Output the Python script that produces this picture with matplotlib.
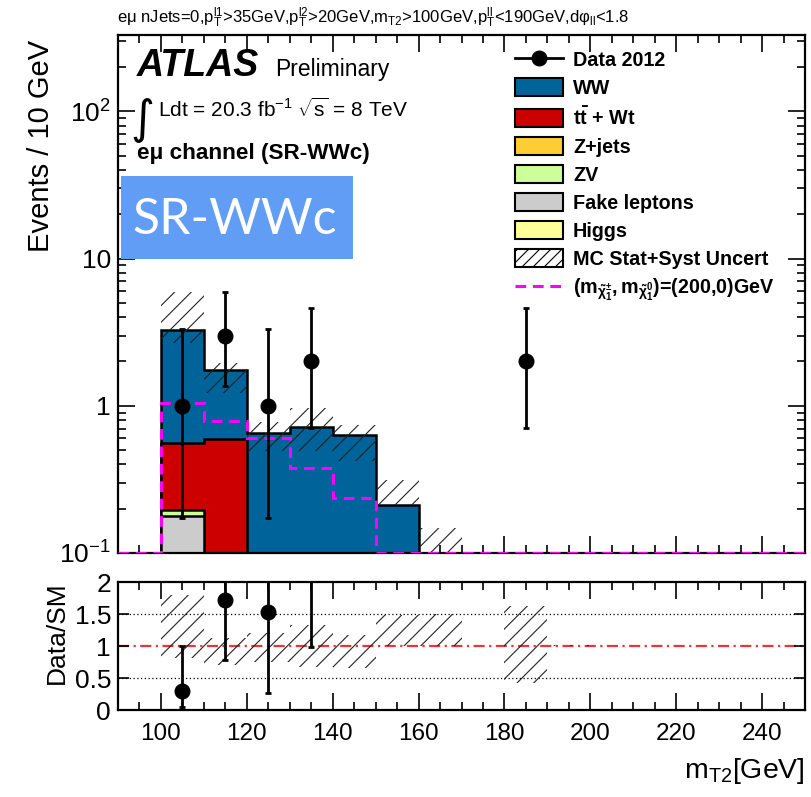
import numpy as np
import matplotlib
matplotlib.use('Agg')
import matplotlib.pyplot as plt
from matplotlib.patches import Patch, Rectangle
from matplotlib.lines import Line2D
from matplotlib.ticker import MultipleLocator, FixedLocator, FixedFormatter, LogLocator, NullFormatter

plt.rcParams['font.family'] = ['Liberation Sans', 'DejaVu Sans']
plt.rcParams['mathtext.fontset'] = 'custom'
plt.rcParams['mathtext.rm'] = 'Liberation Sans'
plt.rcParams['mathtext.it'] = 'Liberation Sans:italic'
plt.rcParams['mathtext.bf'] = 'Liberation Sans:bold'
plt.rcParams['mathtext.sf'] = 'Liberation Sans'
plt.rcParams['hatch.linewidth'] = 0.8

# mT2 binning, 10 GeV bins from 90 to 250
edges = np.arange(90, 251, 10)

# background yields per bin (events / 10 GeV)
ww     = [0, 2.74, 1.15, 0.652, 0.723, 0.635, 0.212, 0.098, 0, 0.05, 0.005, 0, 0, 0, 0, 0]
ttbar  = [0, 0.36, 0.593, 0, 0, 0, 0, 0, 0, 0, 0, 0, 0, 0, 0, 0]
zjets  = [0, 0, 0, 0, 0, 0, 0, 0, 0, 0, 0, 0, 0, 0, 0, 0]
zv     = [0, 0.019, 0, 0, 0, 0, 0, 0, 0, 0, 0, 0, 0, 0, 0, 0]
fakes  = [0, 0.177, 0, 0, 0, 0, 0, 0, 0, 0, 0, 0, 0, 0, 0, 0]
higgs  = [0, 0, 0, 0, 0, 0, 0, 0, 0, 0, 0, 0, 0, 0, 0, 0]

# MC stat+syst uncertainty band (lower / upper edge)
band_lo = [0, 2.67, 1.22, 0.49, 0.49, 0.42, 0.212, 0.098, 0, 0.021, 0.005, 0, 0, 0, 0, 0]
band_hi = [0, 5.9, 1.95, 0.78, 0.965, 0.743, 0.314, 0.147, 0, 0.081, 0.0051, 0, 0, 0, 0, 0]

# signal point (m_chargino, m_neutralino) = (200, 0) GeV
signal = [0, 1.04, 0.79, 0.60, 0.38, 0.236, 0, 0, 0, 0, 0, 0, 0, 0, 0, 0]

# data 2012 with Poisson intervals
data_x  = [105, 115, 125, 135, 185]
data_n  = [1, 3, 1, 2, 2]
data_lo = [0.173, 1.367, 0.173, 0.708, 0.708]
data_hi = [3.300, 5.918, 3.300, 4.638, 4.638]

# stack order, bottom to top: label, yields, colour
bkg = [
    ('Higgs', higgs, '#FFFF99'),
    ('Fake leptons', fakes, '#CCCCCC'),
    ('ZV', zv, '#CCFF99'),
    ('Z+jets', zjets, '#FFCC33'),
    (r'$\mathbf{t\bar{t}}$ + Wt', ttbar, '#CC0000'),
    ('WW', ww, '#00639A'),
]
legend_order = ['WW', r'$\mathbf{t\bar{t}}$ + Wt', 'Z+jets', 'ZV', 'Fake leptons', 'Higgs']

W, H = 811, 797
YMIN, YMAX = 0.1, 330
FLOOR = 1e-4

def fx(px):
    return px / W

def fy(py):
    return 1 - py / H

fig = plt.figure(figsize=(W / 100, H / 100), dpi=100)
ax = fig.add_axes([fx(118), fy(553), fx(805) - fx(118), fy(35) - fy(553)])
rx = fig.add_axes([fx(118), fy(710), fx(805) - fx(118), fy(582) - fy(710)])

# stacked backgrounds, drawn from the total downwards
cum = np.cumsum([np.array(b[1], float) for b in bkg], axis=0)
total = cum[-1]
for i in range(len(bkg) - 1, -1, -1):
    vals = np.maximum(cum[i], FLOOR)
    ax.stairs(vals, edges, baseline=FLOOR, fill=True, facecolor=bkg[i][2],
              edgecolor='black', linewidth=1.8, zorder=2)

# uncertainty band
lo = np.array(band_lo, float)
hi = np.array(band_hi, float)
has = hi > 0
ax.bar(edges[:-1][has], (hi - lo)[has], width=10, bottom=lo[has], align='edge',
       fill=False, hatch='//', edgecolor='#222222', linewidth=0, zorder=3)

# signal
ax.stairs(np.maximum(np.array(signal, float), YMIN), edges, baseline=None,
          color='#FF00FF', linewidth=2.2, linestyle=(0, (3.5, 2.2)), zorder=4)

# data
dn = np.array(data_n, float)
ax.errorbar(data_x, dn, yerr=[dn - np.array(data_lo), np.array(data_hi) - dn],
            fmt='o', color='black', ms=10.5, elinewidth=2, capsize=2, capthick=2, zorder=5)

ax.set_yscale('log')
ax.set_xlim(90, 250)
ax.set_ylim(YMIN, YMAX)
ax.yaxis.set_major_locator(FixedLocator([0.1, 1, 10, 100]))
ax.yaxis.set_major_formatter(FixedFormatter(['$10^{-1}$', '1', '10', '$10^{2}$']))
ax.yaxis.set_minor_locator(LogLocator(base=10, subs=np.arange(2, 10)))
ax.yaxis.set_minor_formatter(NullFormatter())

# ratio panel
rx.set_xlim(90, 250)
rx.set_ylim(0, 2)
for yv in (0.5, 1.5):
    rx.axhline(yv, color='black', linestyle=(0, (1, 2)), linewidth=0.9, zorder=1)
rx.axhline(1, color='#E8353B', linestyle=(0, (5, 2, 1, 2)), linewidth=1.6, zorder=1)

ok = total > 0
rlo = np.where(ok, lo / np.where(ok, total, 1), 0)
rhi = np.where(ok, hi / np.where(ok, total, 1), 0)
rx.bar(edges[:-1][ok], (rhi - rlo)[ok], width=10, bottom=rlo[ok], align='edge',
       fill=False, hatch='//', edgecolor='#222222', linewidth=0, zorder=2)

idx = np.searchsorted(edges, data_x) - 1
mc = total[idx]
ratio = dn / mc
rx.errorbar(data_x, ratio, yerr=[ratio - np.array(data_lo) / mc, np.array(data_hi) / mc - ratio],
            fmt='o', color='black', ms=10.5, elinewidth=2, capsize=2, capthick=2, zorder=5)
rx.yaxis.set_major_locator(FixedLocator([0, 0.5, 1, 1.5, 2]))
rx.yaxis.set_major_formatter(FixedFormatter(['0', '0.5', '1', '1.5', '2']))

for a in (ax, rx):
    a.xaxis.set_major_locator(MultipleLocator(20))
    a.xaxis.set_minor_locator(MultipleLocator(5))
    a.tick_params(which='both', direction='in', top=True, right=True, width=1.2)
    a.tick_params(which='major', length=12)
    a.tick_params(which='minor', length=6)
    for s in a.spines.values():
        s.set_linewidth(1.6)
    a.tick_params(axis='y', labelsize=19, pad=5)
ax.tick_params(axis='x', labelbottom=False)
rx.tick_params(axis='x', labelsize=17.5, pad=9)
rx.tick_params(axis='y', which='major', length=8, labelsize=19)

# axis titles
fig.text(fx(41), fy(146), 'Events / 10 GeV', rotation=90, ha='center', va='center', fontsize=21)
fig.text(fx(57), fy(633), 'Data/SM', rotation=90, ha='center', va='center', fontsize=19)
fig.text(fx(805), fy(771), r'm$_{\mathrm{T2}}$[GeV]', ha='right', va='center', fontsize=20.5)

# selection header
fig.text(fx(117), fy(18),
         r'eμ nJets=0,p$_{\mathrm{T}}^{\mathrm{l1}}$>35GeV,p$_{\mathrm{T}}^{\mathrm{l2}}$>20GeV,'
         r'm$_{\mathrm{T2}}$>100GeV,p$_{\mathrm{T}}^{\mathrm{ll}}$<190GeV,dφ$_{\mathrm{ll}}$<1.8',
         ha='left', va='center', fontsize=12)

# ATLAS label block
fig.text(fx(137), fy(76), 'ATLAS', fontsize=27, fontweight='bold', fontstyle='italic', ha='left', va='baseline')
fig.text(fx(275), fy(76), 'Preliminary', fontsize=16.5, ha='left', va='baseline')
fig.text(fx(130), fy(133), '∫', fontsize=33, family='DejaVu Sans', ha='left', va='baseline')
fig.text(fx(158), fy(117), r'Ldt = 20.3 fb$^{\mathrm{-1}}$ $\sqrt{\mathrm{s}}$ = 8 TeV', fontsize=15,
         ha='left', va='baseline')
fig.text(fx(137), fy(159), 'eμ channel (SR-WWc)', fontsize=16.2, fontweight='bold', ha='left', va='baseline')

fig.patches.append(Rectangle((fx(121), fy(259)), fx(353) - fx(121), fy(176) - fy(259),
                             transform=fig.transFigure, facecolor='#619CF5', edgecolor='none', zorder=5))
fig.text(fx(132), fy(234), 'SR-WWc', family='Lato', fontsize=36, color='white', ha='left',
         va='baseline', zorder=6)

# legend
cmap = {name: col for name, _, col in bkg}
handles = [Line2D([], [], color='black', marker='o', ms=10.5, lw=2)]
handles += [Patch(facecolor=cmap[n], edgecolor='black', linewidth=1.5) for n in legend_order]
handles.append(Patch(facecolor='white', edgecolor='black', hatch='///', linewidth=1.5))
handles.append(Line2D([], [], color='#FF00FF', lw=2.2, linestyle=(0, (3.5, 2.2))))
labels = (['Data 2012'] + legend_order +
          ['MC Stat+Syst Uncert',
           r'$\mathbf{(m_{\tilde{\chi}_{1}^{\pm}},m_{\tilde{\chi}_{1}^{0}})}$=(200,0)GeV'])
ax.legend(handles, labels, loc='upper left', bbox_to_anchor=(fx(515), fy(50)),
          bbox_transform=fig.transFigure, frameon=False, borderpad=0, borderaxespad=0,
          handlelength=2.44, handleheight=1.05, handletextpad=0.5, labelspacing=0.415,
          prop={'weight': 'bold', 'size': 14.2})

fig.savefig('out.png', dpi=100)
